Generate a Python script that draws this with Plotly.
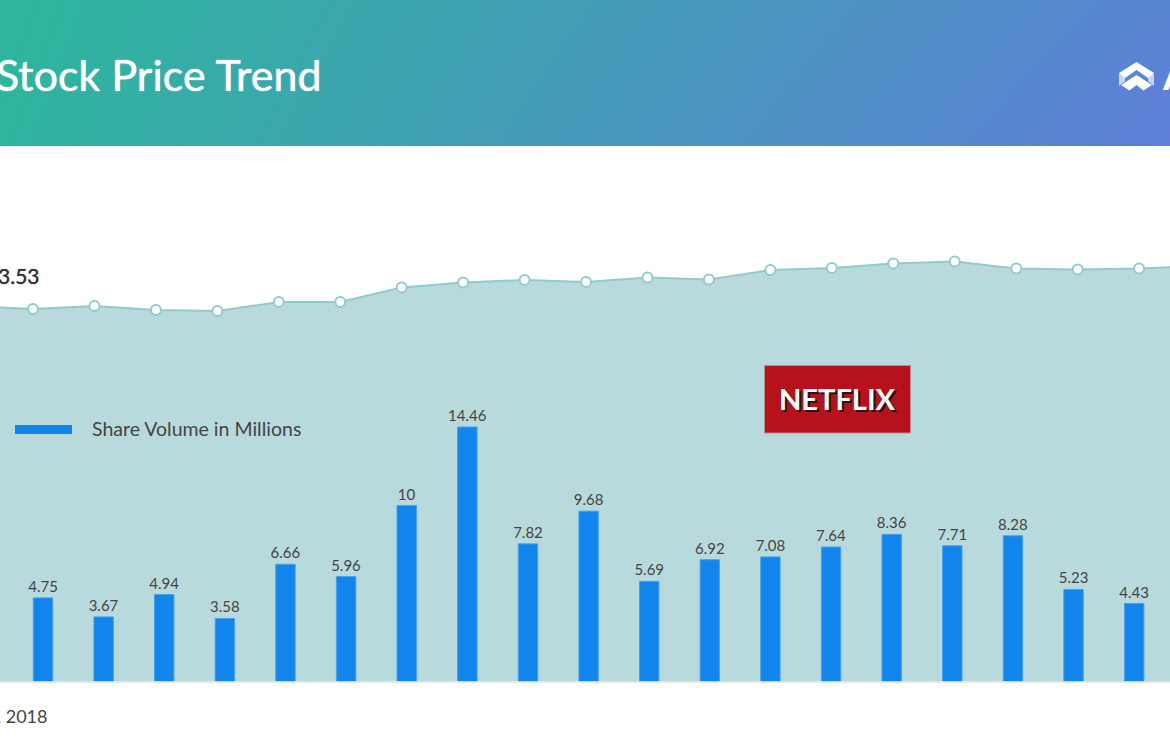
import plotly.graph_objects as go

# share volume in millions, one bar per trading day
volume_days = list(range(19))
volume = [4.75, 3.67, 4.94, 3.58, 6.66, 5.96, 10, 14.46, 7.82, 9.68,
          5.69, 6.92, 7.08, 7.64, 8.36, 7.71, 8.28, 5.23, 4.43]
volume_labels = ["4.75", "3.67", "4.94", "3.58", "6.66", "5.96", "10", "14.46", "7.82", "9.68",
                 "5.69", "6.92", "7.08", "7.64", "8.36", "7.71", "8.28", "5.23", "4.43"]

# closing price, the first and last points sit just outside the picture
price_days = list(range(-1, 20))
price = [353.5, 350.7, 353.5, 349.8, 348.8, 357.3, 357.3, 371.0, 375.7, 378.0, 376.1,
         380.4, 378.5, 387.4, 389.3, 393.6, 395.4, 388.9, 387.9, 388.9, 391.2]

# header gradient corners
header_x = [0, 1170]
header_y = [0, 146]
header_z = [[0.0, 0.88], [0.04, 1.0]]

W = 1170
H = 752
BASE = 681.5
TOP = 150

fig = go.Figure()

# header band
fig.add_trace(go.Heatmap(x=header_x, y=header_y, z=header_z, zsmooth="best", showscale=False,
                         colorscale=[[0, "#2DB69C"], [1, "#5F7FD9"]], zmin=0, zmax=1,
                         hoverinfo="skip", xaxis="x3", yaxis="y3"))

# price area
fig.add_trace(go.Scatter(x=price_days, y=price, mode="lines+markers", fill="tozeroy",
                         fillcolor="#B9DADC", line=dict(color="#93CBCB", width=2),
                         marker=dict(size=10, color="white", line=dict(color="#93CBCB", width=2)),
                         showlegend=False, xaxis="x", yaxis="y"))

# volume bars go on the overlaying axes so they sit over the area
fig.add_trace(go.Bar(x=volume_days, y=volume, text=volume_labels, textposition="outside",
                     cliponaxis=False, width=0.32, constraintext="none", textangle=0,
                     textfont=dict(family="Lato", size=15, color="#444444"),
                     marker=dict(color="#1185EC", line=dict(color="#45A0F0", width=1)),
                     showlegend=False, xaxis="x2", yaxis="y2"))


def label(text, x, y, size, color, anchor="right", **font_extra):
    fig.add_annotation(text=text, x=x, y=y, xref="x4", yref="y4", xanchor=anchor, yanchor="middle",
                       showarrow=False, font=dict(family="Lato", size=size, color=color, **font_extra))


label("Stock Price Trend", 324, 74, 43, "white", shadow="0 0 1.2px white")
label("3.53", 42, 275.5, 21, "#333333", shadow="0 0 0.8px #333333")
label(", 2018", 49, 716, 18, "#444444")
label("Share Volume in Millions", 90, 428.5, 19.5, "#444444", anchor="left")
label("A", 1160, 75, 40, "white", anchor="left", weight=700)

fig.add_annotation(text="NETFLIX", x=837, y=398, xref="x4", yref="y4", showarrow=False,
                   font=dict(family="Lato", size=29, color="white", weight=700,
                             shadow="2px 2px 0 #231815"))

shapes = [
    dict(type="line", x0=0, x1=W, y0=682, y1=682, line=dict(color="#E0E0E0", width=1.5)),
    dict(type="rect", x0=15, x1=72, y0=425, y1=434, fillcolor="#1185EC", line=dict(width=0)),
    dict(type="rect", x0=764.5, x1=910.5, y0=365.5, y1=433, fillcolor="#B5121B",
         line=dict(color="#C08A90", width=1)),
    # logo chevrons in the header
    dict(type="path", path="M1119,73 L1125,77 L1125,81 L1119,86 Z",
         fillcolor="#C9D6F2", line=dict(width=0)),
    dict(type="path", path="M1154,73 L1148,77 L1148,81 L1154,86 Z",
         fillcolor="#C9D6F2", line=dict(width=0)),
    dict(type="path", path="M1119,73 L1136.5,62 L1154,73 L1148,78 L1136.5,70 L1125,78 Z",
         fillcolor="white", line=dict(width=0)),
    dict(type="path", path="M1121,85 L1136.5,75 L1152,85 L1143.5,90.5 L1136.5,85 L1129.5,90.5 Z",
         fillcolor="white", line=dict(width=0)),
]
for s in shapes:
    s.update(xref="x4", yref="y4")

bar_step = 60.62
bar_start = 43.0
line_step = 61.45
line_start = 33.0
price_scale = 1.0621
volume_scale = 17.6
plot_h = BASE - TOP
hidden = dict(visible=False, fixedrange=True)

fig.update_layout(
    width=W, height=H, margin=dict(l=0, r=0, t=0, b=0),
    paper_bgcolor="white", plot_bgcolor="rgba(0,0,0,0)", showlegend=False,
    shapes=shapes,
    xaxis=dict(domain=[0, 1], range=[-line_start / line_step, (W - line_start) / line_step], **hidden),
    yaxis=dict(domain=[1 - BASE / H, 1 - TOP / H], range=[0, plot_h / price_scale], **hidden),
    xaxis2=dict(overlaying="x", range=[-bar_start / bar_step, (W - bar_start) / bar_step], **hidden),
    yaxis2=dict(overlaying="y", range=[0, plot_h / volume_scale], **hidden),
    xaxis3=dict(domain=[0, 1], range=[0, 1170], anchor="y3", **hidden),
    yaxis3=dict(domain=[1 - 146 / H, 1], range=[146, 0], anchor="x3", **hidden),
    xaxis4=dict(domain=[0, 1], range=[0, W], anchor="y4", **hidden),
    yaxis4=dict(domain=[0, 1], range=[H, 0], anchor="x4", **hidden),
)

fig.write_html("out.html", config=dict(displayModeBar=False),
               post_script="document.body.style.margin='0';")
